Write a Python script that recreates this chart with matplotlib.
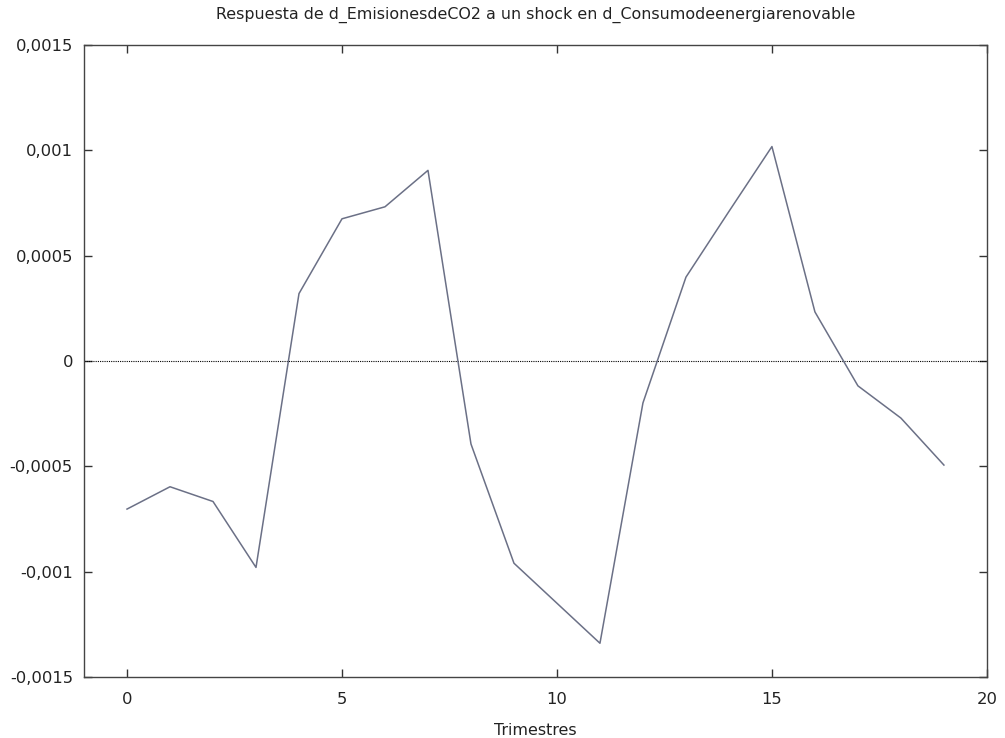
import matplotlib
matplotlib.use('Agg')
import matplotlib.pyplot as plt
from matplotlib.ticker import FuncFormatter, MultipleLocator

# impulse response, one value per quarter
periods = list(range(20))
response = [-0.000703, -0.000597, -0.000667, -0.000980, 0.000320,
            0.000675, 0.000732, 0.000905, -0.000394, -0.000960,
            -0.001150, -0.001340, -0.000199, 0.000398, 0.000710,
            0.001018, 0.000233, -0.000118, -0.000271, -0.000494]

title = 'Respuesta de d_EmisionesdeCO2 a un shock en d_Consumodeenergiarenovable'
x_ticks = [0, 5, 10, 15, 20]


def comma_fmt(v, pos):
    if abs(v) < 1e-12:
        return '0'
    return ('%g' % v).replace('.', ',')


def main():
    plt.rcParams['font.family'] = ['DejaVu Sans']
    fig = plt.figure(figsize=(10.05, 7.38), dpi=100)
    ax = fig.add_axes([0.0836, 0.0827, 0.8984, 0.8563])

    ax.axhline(0, color='black', lw=0.8, ls=(0, (1, 1)))
    ax.plot(periods, response, color='#6b7086', lw=1.1)

    ax.set_xlim(-1, 20)
    ax.set_ylim(-0.0015, 0.0015)
    ax.set_xticks(x_ticks)
    ax.yaxis.set_major_locator(MultipleLocator(0.0005))
    ax.yaxis.set_major_formatter(FuncFormatter(comma_fmt))

    ax.tick_params(direction='in', length=6, width=1, colors='#333333',
                   labelcolor='#222222', labelsize=11.8,
                   top=True, right=True)
    ax.tick_params(axis='y', pad=8)
    ax.tick_params(axis='x', pad=11)
    for s in ax.spines.values():
        s.set_color('#444444')
        s.set_linewidth(1)

    ax.set_title(title, fontsize=11.4, color='#222222', pad=19)
    ax.set_xlabel('Trimestres', fontsize=11.4, color='#222222', labelpad=11)

    fig.savefig('out.png', dpi=100)


if __name__ == '__main__':
    main()
